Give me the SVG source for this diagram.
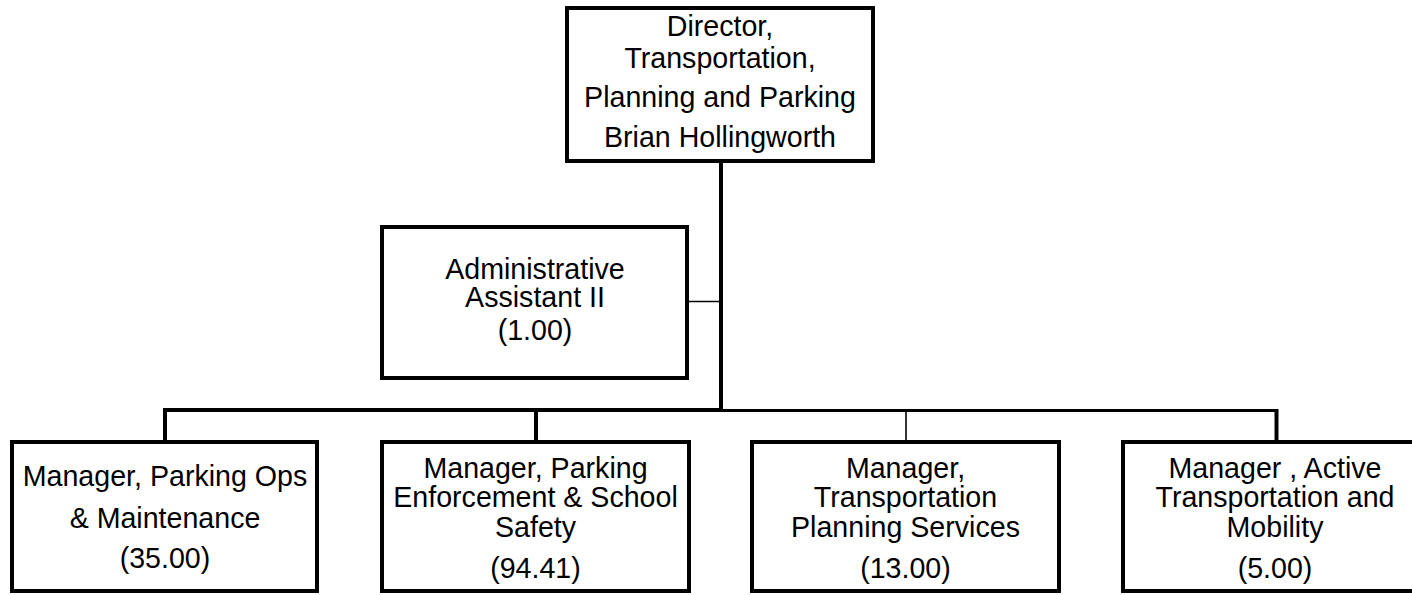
<svg xmlns="http://www.w3.org/2000/svg" width="1412" height="595" viewBox="0 0 1412 595">
<style>
.box{fill:#fff;stroke:#000;stroke-width:4}
.t{font-family:"Liberation Sans",Arial,sans-serif;font-size:28.6px;fill:#000;text-anchor:middle}
.thick{stroke:#000;stroke-width:4;fill:none}
.thin{stroke:#000;stroke-width:1.6;fill:none}
</style>
<rect width="1412" height="595" fill="#fff"/>
<g id="connectors">
<line class="thick" x1="721" y1="161" x2="721" y2="412"/>
<line class="thin" x1="687" y1="301.5" x2="721" y2="301.5"/>
<polyline class="thick" points="165,442 165,410 721,410"/>
<line class="thick" x1="719" y1="410.5" x2="1278" y2="410.5" style="stroke-width:3"/>
<line class="thick" x1="1276.5" y1="409" x2="1276.5" y2="442"/>
<line class="thick" x1="536" y1="410" x2="536" y2="442"/>
<line class="thin" x1="906" y1="410" x2="906" y2="442"/>
</g>
<g id="director">
<rect class="box" x="567" y="8" width="306" height="153"/>
<text class="t" x="720" y="36">Director,</text>
<text class="t" x="720" y="68">Transportation,</text>
<text class="t" x="720" y="107">Planning and Parking</text>
<text class="t" x="720" y="147">Brian Hollingworth</text>
</g>
<g id="admin">
<rect class="box" x="382" y="227" width="305" height="151"/>
<text class="t" x="535" y="279">Administrative</text>
<text class="t" x="535" y="307">Assistant II</text>
<text class="t" x="535" y="340">(1.00)</text>
</g>
<g id="parking-ops">
<rect class="box" x="12" y="442" width="305" height="149"/>
<text class="t" x="165" y="485.5">Manager, Parking Ops</text>
<text class="t" x="165" y="527.5">&amp; Maintenance</text>
<text class="t" x="165" y="568">(35.00)</text>
</g>
<g id="parking-enforcement">
<rect class="box" x="382" y="442" width="307" height="149"/>
<text class="t" x="535.5" y="477.5">Manager, Parking</text>
<text class="t" x="535.5" y="507">Enforcement &amp; School</text>
<text class="t" x="535.5" y="537">Safety</text>
<text class="t" x="535.5" y="578">(94.41)</text>
</g>
<g id="transportation-planning">
<rect class="box" x="752" y="442" width="307" height="149"/>
<text class="t" x="905.5" y="477.5">Manager,</text>
<text class="t" x="905.5" y="507">Transportation</text>
<text class="t" x="905.5" y="537">Planning Services</text>
<text class="t" x="905.5" y="578">(13.00)</text>
</g>
<g id="active-transportation">
<rect class="box" x="1123" y="442" width="305" height="149"/>
<text class="t" x="1275" y="477.5">Manager , Active</text>
<text class="t" x="1275" y="507">Transportation and</text>
<text class="t" x="1275" y="537">Mobility</text>
<text class="t" x="1275" y="578">(5.00)</text>
</g>
</svg>
